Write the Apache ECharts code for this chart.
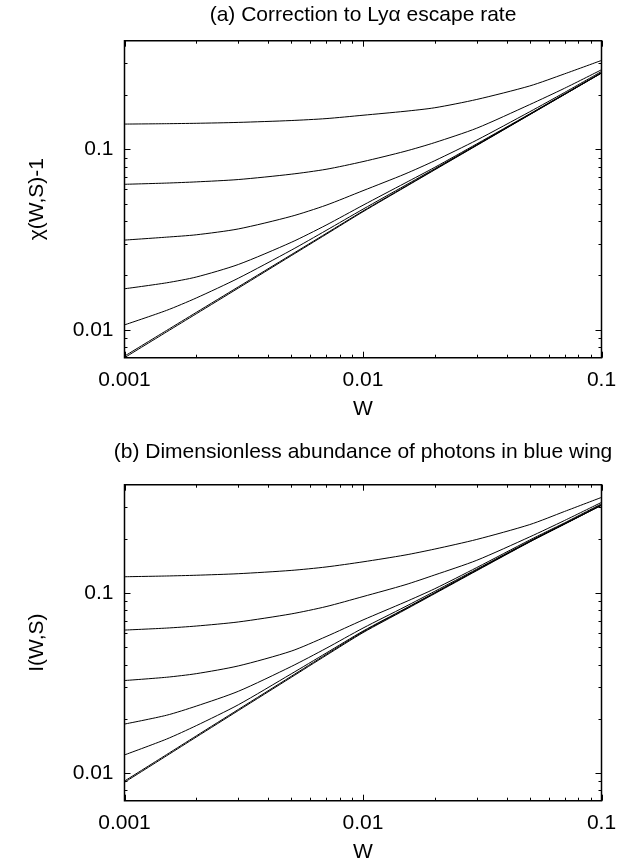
<!DOCTYPE html>
<html>
<head>
<meta charset="utf-8">
<script src="https://cdn.jsdelivr.net/npm/echarts@6/dist/echarts.min.js"></script>
<style>
html,body{margin:0;padding:0;background:#fff;}
#chart{width:642px;height:867px;}
</style>
</head>
<body>
<div id="chart"></div>
<script>
// ---------- data ----------
const W = [0.001, 0.0015, 0.002, 0.003, 0.005, 0.007, 0.01, 0.015, 0.02, 0.03, 0.05, 0.07, 0.1];

// (a) chi(W,S)-1
const chiCurve1 = [0.138, 0.1387, 0.1394, 0.1410, 0.1444, 0.1480, 0.1545, 0.1625, 0.170, 0.189, 0.2245, 0.262, 0.311];
const chiCurve2 = [0.064, 0.0650, 0.0660, 0.0680, 0.0728, 0.0775, 0.0855, 0.0975, 0.109, 0.131, 0.177, 0.218, 0.276];
const chiCurve3 = [0.0314, 0.0326, 0.0336, 0.0362, 0.0425, 0.0490, 0.0590, 0.0730, 0.0865, 0.1125, 0.1615, 0.2065, 0.270];
const chiCurve4 = [0.01687, 0.0182, 0.0196, 0.0230, 0.0305, 0.0380, 0.0490, 0.0650, 0.0795, 0.1072, 0.1572, 0.2030, 0.2660];
const chiCurve5 = [0.01064, 0.0128, 0.0150, 0.0193, 0.0276, 0.0355, 0.0466, 0.0630, 0.0781, 0.1060, 0.1563, 0.2020, 0.2652];
const chiCurve6 = [0.00714, 0.0099, 0.01248, 0.01728, 0.02605, 0.03415, 0.0455, 0.0621, 0.0774, 0.1055, 0.1559, 0.2017, 0.2650];
const chiCurve7 = [0.00700, 0.00972, 0.01226, 0.01701, 0.02573, 0.03378, 0.0451, 0.0617, 0.0770, 0.1051, 0.1555, 0.2013, 0.2646];

// (b) I(W,S)
const iCurve1 = [0.1231, 0.1243, 0.1255, 0.1280, 0.1335, 0.1395, 0.1490, 0.1625, 0.1755, 0.1985, 0.2400, 0.2840, 0.3400];
const iCurve2 = [0.0622, 0.0638, 0.0655, 0.0690, 0.0765, 0.0840, 0.0955, 0.111, 0.126, 0.152, 0.205, 0.253, 0.319];
const iCurve3 = [0.0326, 0.0340, 0.0356, 0.0393, 0.0475, 0.0572, 0.0708, 0.0890, 0.1056, 0.1385, 0.1970, 0.2455, 0.3130];
const iCurve4 = [0.01867, 0.0209, 0.0235, 0.0284, 0.0390, 0.0492, 0.0638, 0.0838, 0.1022, 0.1357, 0.1942, 0.2430, 0.3088];
const iCurve5 = [0.01258, 0.0154, 0.0183, 0.0239, 0.0355, 0.0463, 0.0614, 0.0818, 0.1004, 0.1343, 0.1930, 0.2422, 0.3081];
const iCurve6 = [0.00900, 0.01262, 0.01605, 0.02250, 0.03440, 0.04550, 0.06080, 0.08130, 0.1000, 0.1340, 0.1930, 0.2420, 0.3080];
const iCurve7 = [0.00886, 0.01243, 0.01582, 0.02219, 0.03395, 0.04494, 0.06019, 0.08057, 0.0992, 0.1331, 0.1921, 0.2412, 0.3072];

// axes
const xRange = [0.001, 0.1];
const yRange = [0.007, 0.4];
const xTickLabels = ['0.001', '0.01', '0.1'];
const yTickLabels = ['0.01', '0.1'];
const xMinorTicks = [0.002,0.003,0.004,0.005,0.006,0.007,0.008,0.009,0.02,0.03,0.04,0.05,0.06,0.07,0.08,0.09];
const yMinorTicks = [0.008,0.009,0.02,0.03,0.04,0.05,0.06,0.07,0.08,0.09,0.2,0.3];

const titles = ['(a) Correction to Ly\u03b1 escape rate', '(b) Dimensionless abundance of photons in blue wing'];
const xNames = ['W', 'W'];
const yNames = ['\u03c7(W,S)-1', 'I(W,S)'];

// ---------- chart ----------
const FONT = 'Liberation Sans, Arial, Helvetica, sans-serif';
const FS = 21;
const chart = echarts.init(document.getElementById('chart'), null, {renderer: 'canvas'});

function labelFor(list) {
  return function (v) {
    for (const t of list) {
      if (Math.abs(Math.log10(v) - Math.log10(parseFloat(t))) < 1e-6) return t;
    }
    return '';
  };
}

const grids = [
  {left: 124.5, top: 40.7, width: 477, height: 317},
  {left: 124.5, top: 484.7, width: 477, height: 316}
];

const xAxes = [], yAxes = [], series = [];
grids.forEach((g, gi) => {
  xAxes.push({
    type: 'log', logBase: 10, gridIndex: gi, min: xRange[0], max: xRange[1],
    name: xNames[gi], nameLocation: 'middle', nameGap: 41,
    nameTextStyle: {fontFamily: FONT, fontSize: FS, color: '#000'},
    axisLine: {show: false}, axisTick: {show: false}, splitLine: {show: false},
    minorTick: {show: false}, minorSplitLine: {show: false},
    axisLabel: {fontFamily: FONT, fontSize: FS, color: '#000', margin: 12, formatter: labelFor(xTickLabels)}
  });
  yAxes.push({
    type: 'log', logBase: 10, gridIndex: gi, min: yRange[0], max: yRange[1],
    name: yNames[gi], nameLocation: 'middle', nameGap: 77, nameRotate: 90,
    nameTextStyle: {fontFamily: FONT, fontSize: FS, color: '#000'},
    axisLine: {show: false}, axisTick: {show: false}, splitLine: {show: false},
    minorTick: {show: false}, minorSplitLine: {show: false},
    axisLabel: {fontFamily: FONT, fontSize: FS, color: '#000', margin: 11, formatter: labelFor(yTickLabels)}
  });
});

const topCurves = [chiCurve1, chiCurve2, chiCurve3, chiCurve4, chiCurve5, chiCurve6, chiCurve7];
const botCurves = [iCurve1, iCurve2, iCurve3, iCurve4, iCurve5, iCurve6, iCurve7];
[topCurves, botCurves].forEach((curves, gi) => {
  curves.forEach(arr => {
    series.push({
      type: 'line', xAxisIndex: gi, yAxisIndex: gi,
      data: W.map((w, i) => [w, arr[i]]),
      showSymbol: false, symbol: 'none', smooth: 0.25,
      lineStyle: {color: '#000', width: 1}, silent: true, animation: false, clip: true
    });
  });
});

// tick marks (inside, mirrored on all four sides)
function xTickRender(len) {
  return function (params, api) {
    const cs = params.coordSys;
    const p = api.coord([api.value(0), api.value(1)]);
    const x = Math.round(p[0]) + 0.5;
    const b = cs.y + cs.height, t = cs.y;
    return {type: 'group', children: [
      {type: 'line', shape: {x1: x, y1: b, x2: x, y2: b - len}, style: {stroke: '#000', lineWidth: 1}},
      {type: 'line', shape: {x1: x, y1: t, x2: x, y2: t + len}, style: {stroke: '#000', lineWidth: 1}}
    ]};
  };
}
function yTickRender(len) {
  return function (params, api) {
    const cs = params.coordSys;
    const p = api.coord([api.value(0), api.value(1)]);
    const y = Math.round(p[1]) + 0.5;
    const l = cs.x, r = cs.x + cs.width;
    return {type: 'group', children: [
      {type: 'line', shape: {x1: l, y1: y, x2: l + len, y2: y}, style: {stroke: '#000', lineWidth: 1}},
      {type: 'line', shape: {x1: r, y1: y, x2: r - len, y2: y}, style: {stroke: '#000', lineWidth: 1}}
    ]};
  };
}
[0, 1].forEach(gi => {
  series.push({type: 'custom', xAxisIndex: gi, yAxisIndex: gi, silent: true, animation: false, clip: false,
    renderItem: xTickRender(6), data: xTickLabels.map(t => [parseFloat(t), 0.05])});
  series.push({type: 'custom', xAxisIndex: gi, yAxisIndex: gi, silent: true, animation: false, clip: false,
    renderItem: xTickRender(3), data: xMinorTicks.map(v => [v, 0.05])});
  series.push({type: 'custom', xAxisIndex: gi, yAxisIndex: gi, silent: true, animation: false, clip: false,
    renderItem: yTickRender(6), data: yTickLabels.map(t => [0.01, parseFloat(t)])});
  series.push({type: 'custom', xAxisIndex: gi, yAxisIndex: gi, silent: true, animation: false, clip: false,
    renderItem: yTickRender(3), data: yMinorTicks.map(v => [0.01, v])});
});

chart.setOption({
  backgroundColor: '#fff',
  animation: false,
  title: [
    {text: titles[0], left: 363, top: 5, textAlign: 'center', padding: 0,
     textStyle: {fontFamily: FONT, fontSize: FS, fontWeight: 'normal', color: '#000'}},
    {text: titles[1], left: 363, top: 442, textAlign: 'center', padding: 0,
     textStyle: {fontFamily: FONT, fontSize: FS, fontWeight: 'normal', color: '#000'}}
  ],
  grid: grids.map(g => Object.assign({show: true, borderColor: '#000', borderWidth: 1.5, backgroundColor: 'transparent', containLabel: false}, g)),
  xAxis: xAxes,
  yAxis: yAxes,
  series: series
});
</script>
</body>
</html>
